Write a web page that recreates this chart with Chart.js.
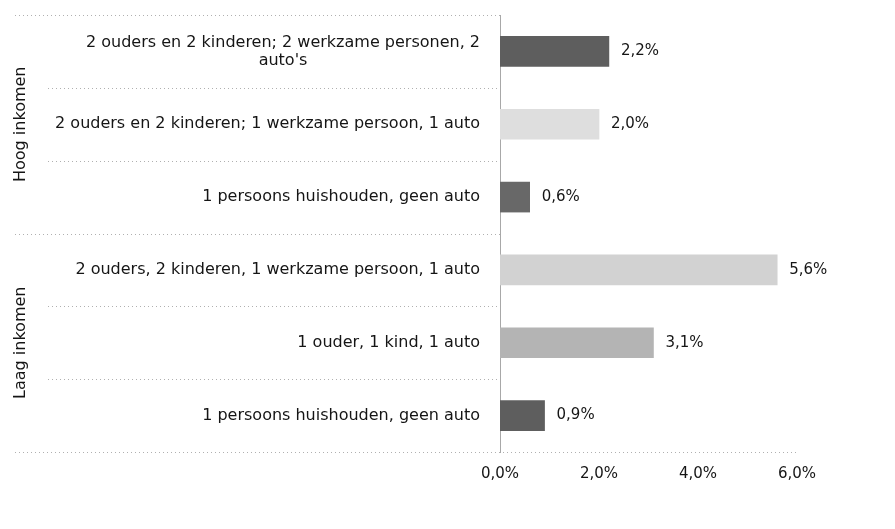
<!DOCTYPE html>
<html>
<head>
<meta charset="utf-8">
<script src="https://cdn.jsdelivr.net/npm/chart.js@4"></script>
<style>
  html, body { margin: 0; padding: 0; background: #fff; }
  #wrap { width: 895px; height: 529px; }
</style>
</head>
<body>
<div id="wrap"><canvas id="chart" width="895" height="529"></canvas></div>
<script>
// data
const categories = [
  ["2 ouders en 2 kinderen; 2 werkzame personen, 2", "auto's"],
  ["2 ouders en 2 kinderen; 1 werkzame persoon, 1 auto"],
  ["1 persoons huishouden, geen auto"],
  ["2 ouders, 2 kinderen, 1 werkzame persoon, 1 auto"],
  ["1 ouder, 1 kind, 1 auto"],
  ["1 persoons huishouden, geen auto"]
];
const groups = ["Hoog inkomen", "Laag inkomen"];
const groupSizes = [3, 3];
const values = [2.2, 2.0, 0.6, 5.6, 3.1, 0.9];
const xTicks = [0, 2, 4, 6];

const barColors = ['#5e5e5e', '#dedede', '#686868', '#d2d2d2', '#b4b4b4', '#5e5e5e'];
const FONT = '"DejaVu Sans", Verdana, sans-serif';
const TXT = '#151515';
const fmt = v => v.toFixed(1).replace('.', ',') + '%';

// category labels, group labels, separators and value labels
const decor = {
  id: 'decor',
  afterDraw(chart) {
    const c = chart.ctx, y = chart.scales.y, area = chart.chartArea;
    c.save();
    c.strokeStyle = '#b0b0b0';
    c.lineWidth = 1;
    c.setLineDash([1, 3]);
    const n = categories.length;
    let bounds = [0];
    groupSizes.reduce((a, s) => { bounds.push(a + s); return a + s; }, 0);
    for (let i = 0; i <= n; i++) {
      const py = Math.round(y.getPixelForValue(i - 0.5)) + 0.5;
      const isGroup = bounds.includes(i);
      const x0 = isGroup ? 15 : 48;
      const x1 = (i === n) ? area.right : area.left;
      c.beginPath(); c.moveTo(x0, py); c.lineTo(x1, py); c.stroke();
    }
    c.setLineDash([]);

    // category labels: block right aligned, lines centred inside block
    c.font = '16px ' + FONT;
    c.fillStyle = TXT;
    c.textBaseline = 'middle';
    c.textAlign = 'center';
    const lh = 18;
    categories.forEach((lines, i) => {
      const cy = y.getPixelForValue(i);
      const w = Math.max(...lines.map(l => c.measureText(l).width));
      const cx = area.left - 20 - w / 2;
      lines.forEach((l, k) => {
        c.fillText(l, cx, cy + (k - (lines.length - 1) / 2) * lh);
      });
    });

    // group labels, rotated
    let start = 0;
    groups.forEach((g, gi) => {
      const end = start + groupSizes[gi] - 1;
      const cy = (y.getPixelForValue(start) + y.getPixelForValue(end)) / 2;
      c.save();
      c.translate(21, cy);
      c.rotate(-Math.PI / 2);
      c.fillText(g, 0, 0);
      c.restore();
      start = end + 1;
    });

    // value labels at bar ends
    c.font = '15px ' + FONT;
    c.textAlign = 'left';
    chart.getDatasetMeta(0).data.forEach((bar, i) => {
      c.fillText(fmt(values[i]), bar.x + 12, bar.y);
    });
    c.restore();
  }
};

new Chart(document.getElementById('chart'), {
  type: 'bar',
  data: {
    labels: categories,
    datasets: [{
      data: values,
      backgroundColor: barColors,
      borderWidth: 0,
      barThickness: 30
    }]
  },
  options: {
    indexAxis: 'y',
    responsive: false,
    animation: false,
    layout: { padding: { top: 15, right: 98, bottom: 0, left: 0 } },
    plugins: { legend: { display: false }, tooltip: { enabled: false } },
    scales: {
      x: {
        min: 0, max: 6,
        afterBuildTicks: s => { s.ticks = xTicks.map(v => ({ value: v })); },
        afterFit: s => { s.height = 77; },
        grid: { display: false, drawTicks: false },
        border: { display: false },
        ticks: {
          padding: 13,
          color: TXT,
          font: { family: FONT, size: 15 },
          callback: v => fmt(v)
        }
      },
      y: {
        afterFit: s => { s.width = 500; },
        grid: { display: false },
        border: { display: true, color: '#a8a8a8', dash: [1, 2] },
        ticks: { display: false }
      }
    }
  },
  plugins: [decor]
});
</script>
</body>
</html>
